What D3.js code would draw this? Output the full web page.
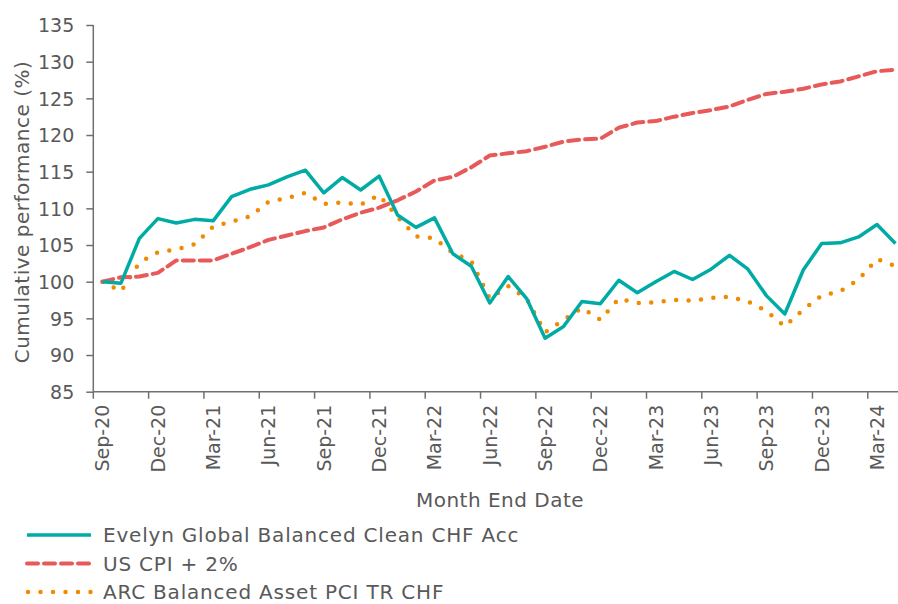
<!DOCTYPE html>
<html>
<head>
<meta charset="utf-8">
<script src="https://cdn.jsdelivr.net/npm/d3@7"></script>
<style>
  body { margin: 0; background: #fff; }
  text { font-family: "DejaVu Sans", sans-serif; fill: #595959; }
</style>
</head>
<body>
<div id="wrapper"></div>
<script>
const months = [
  "Sep-20","Oct-20","Nov-20","Dec-20","Jan-21","Feb-21","Mar-21","Apr-21","May-21","Jun-21","Jul-21","Aug-21",
  "Sep-21","Oct-21","Nov-21","Dec-21","Jan-22","Feb-22","Mar-22","Apr-22","May-22","Jun-22","Jul-22","Aug-22",
  "Sep-22","Oct-22","Nov-22","Dec-22","Jan-23","Feb-23","Mar-23","Apr-23","May-23","Jun-23","Jul-23","Aug-23",
  "Sep-23","Oct-23","Nov-23","Dec-23","Jan-24","Feb-24","Mar-24","Apr-24"
];

const evelyn = [
  100.0, 99.8, 105.9, 108.6, 108.0, 108.5, 108.3, 111.6, 112.6, 113.2, 114.3, 115.2,
  112.1, 114.2, 112.5, 114.4, 109.1, 107.4, 108.7, 103.8, 102.1, 97.1, 100.7, 97.7,
  92.3, 93.9, 97.3, 97.0, 100.2, 98.5, 100.0, 101.4, 100.3, 101.7, 103.6, 101.7,
  98.1, 95.6, 101.6, 105.2, 105.3, 106.1, 107.8, 105.2
];

const usCpi = [
  100.0, 100.6, 100.7, 101.2, 102.9, 102.9, 102.9, 103.8, 104.7, 105.7, 106.3, 106.9,
  107.4, 108.5, 109.4, 110.1, 111.1, 112.3, 113.8, 114.3, 115.6, 117.2, 117.5, 117.8,
  118.4, 119.1, 119.4, 119.5, 121.0, 121.7, 121.9, 122.5, 123.0, 123.4, 123.9, 124.8,
  125.6, 125.9, 126.3, 126.9, 127.3, 128.0, 128.7, 128.9
];

const arc = [
  100.0, 98.7, 102.6, 104.0, 104.4, 105.1, 107.5, 108.2, 108.9, 110.9, 111.4, 112.1,
  110.6, 110.8, 110.5, 111.8, 108.8, 106.2, 105.9, 103.9, 102.8, 97.7, 99.4, 97.7,
  93.1, 94.8, 96.4, 94.8, 97.7, 97.1, 97.2, 97.5, 97.4, 97.8, 97.95, 97.3,
  96.0, 93.9, 96.2, 98.1, 98.7, 100.3, 103.1, 102.1
];

const yTicks = [85, 90, 95, 100, 105, 110, 115, 120, 125, 130, 135];
const xTickLabels = months.filter((m, i) => i % 3 === 0);

const seriesNames = ["Evelyn Global Balanced Clean CHF Acc", "US CPI + 2%", "ARC Balanced Asset PCI TR CHF"];

const width = 898;
const height = 604;
const plot = { left: 93.3, top: 25, bottom: 391.7, slot: 18.44 };

const colors = ["#00ABA6", "#E85A5A", "#F08A00"];

const svg = d3.select("#wrapper")
  .append("svg")
  .attr("width", width)
  .attr("height", height);

const xScale = d3.scaleBand()
  .domain(months)
  .range([plot.left, plot.left + plot.slot * months.length])
  .padding(0);

const yScale = d3.scaleLinear()
  .domain([85, 135])
  .range([plot.bottom, plot.top]);

const xMid = m => xScale(m) + xScale.bandwidth() / 2;

// y axis
const yAxis = svg.append("g")
  .attr("transform", `translate(${plot.left},0)`)
  .call(d3.axisLeft(yScale).tickValues(yTicks).tickSize(7).tickPadding(12).tickFormat(d3.format("d")));
yAxis.selectAll("path, line").attr("stroke", "#707070").attr("stroke-width", 1.5);
yAxis.select(".domain").attr("d", `M0,${plot.top}V${plot.bottom}`);
yAxis.selectAll("text").style("font-size", "19px").attr("fill", "#595959").attr("dy", "0.36em");

// x axis (labels at slot centres, ticks at slot boundaries)
const xAxis = svg.append("g")
  .attr("transform", `translate(0,${plot.bottom})`)
  .call(d3.axisBottom(xScale).tickValues(xTickLabels).tickSize(0).tickPadding(0));
xAxis.select(".domain")
  .attr("d", `M${plot.left},0H${width}`)
  .attr("stroke", "#707070").attr("stroke-width", 1.5);
xAxis.selectAll(".tick text")
  .attr("transform", "rotate(-90)")
  .attr("text-anchor", "end")
  .attr("x", -13)
  .attr("y", 0)
  .attr("dy", "0.36em")
  .style("font-size", "19px")
  .attr("fill", "#595959");
xAxis.selectAll(".tick-mark")
  .data(xTickLabels)
  .join("line")
  .attr("x1", d => xScale(d))
  .attr("x2", d => xScale(d))
  .attr("y1", 0)
  .attr("y2", 7)
  .attr("stroke", "#707070")
  .attr("stroke-width", 1.5);

// axis titles
svg.append("text")
  .attr("transform", `translate(22,212) rotate(-90)`)
  .attr("text-anchor", "middle")
  .attr("dy", "0.36em")
  .style("font-size", "20px")
  .style("letter-spacing", "0.5px")
  .text("Cumulative performance (%)");

svg.append("text")
  .attr("x", 500)
  .attr("y", 500)
  .attr("text-anchor", "middle")
  .attr("dy", "0.36em")
  .style("font-size", "20px")
  .style("letter-spacing", "0.5px")
  .text("Month End Date");

// lines
const line = d3.line()
  .x((d, i) => xMid(months[i]))
  .y(d => yScale(d));

const styles = [
  { width: 3.5, dash: null, cap: "butt" },
  { width: 4, dash: "11 6", cap: "round" },
  { width: 4.5, dash: "0 12.5", cap: "round" }
];

const allSeries = [evelyn, usCpi, arc];
const chart = svg.append("g");
[2, 1, 0].forEach(k => {
  chart.append("path")
    .datum(allSeries[k])
    .attr("d", line)
    .attr("fill", "none")
    .attr("stroke", colors[k])
    .attr("stroke-width", styles[k].width)
    .attr("stroke-linecap", styles[k].cap)
    .attr("stroke-linejoin", "round")
    .attr("stroke-dasharray", styles[k].dash);
});

// legend
const legend = svg.append("g");
seriesNames.forEach((name, k) => {
  const y = 535 + k * 28.5;
  legend.append("line")
    .attr("x1", k === 2 ? 28 : 27)
    .attr("x2", 91)
    .attr("y1", y)
    .attr("y2", y)
    .attr("stroke", colors[k])
    .attr("stroke-width", styles[k].width)
    .attr("stroke-linecap", styles[k].cap)
    .attr("stroke-dasharray", styles[k].dash);
  legend.append("text")
    .attr("x", 103)
    .attr("y", y)
    .attr("dy", "0.36em")
    .style("font-size", "20px")
    .style("letter-spacing", "0.8px")
    .text(name);
});
</script>
</body>
</html>
